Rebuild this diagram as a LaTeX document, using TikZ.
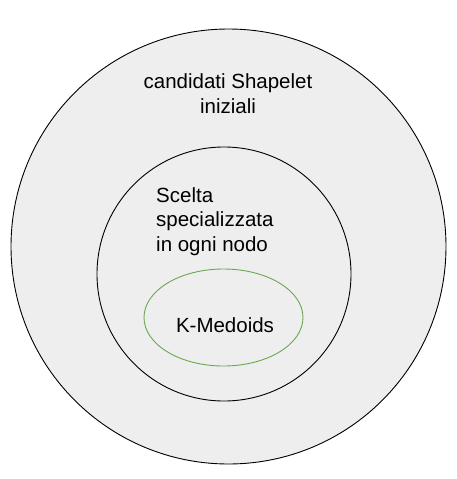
\documentclass[tikz,border=0pt]{standalone}
\usepackage{fontspec}
\setmainfont{Liberation Sans}
\definecolor{fillgray}{HTML}{EEEEEE}
\definecolor{kgreen}{HTML}{6AA84F}
\tikzset{
  ring/.style={draw=black, line width=0.9pt, fill=fillgray},
  label/.style={font=\fontsize{20.5}{24.5}\selectfont, inner sep=0pt, text=black}
}
\begin{document}
\begin{tikzpicture}[x=1pt,y=-1pt]
\useasboundingbox (0,0) rectangle (457,479);
\fill[white] (0,0) rectangle (457,479);
\draw[ring] (228.5,246.5) circle [radius=217.5];
\draw[ring] (224,274) circle [radius=127];
\draw[draw=kgreen, line width=0.9pt] (223.5,317.5) ellipse [x radius=79.5, y radius=48.5];
\node[label, align=center, anchor=base] (outer) at (228,113) {candidati Shapelet\\iniziali};
\node[label, align=left, anchor=base west] (inner) at (156,251) {Scelta\\specializzata\\in ogni nodo};
\node[label, anchor=base] (km) at (225,332) {K-Medoids};
\end{tikzpicture}
\end{document}
